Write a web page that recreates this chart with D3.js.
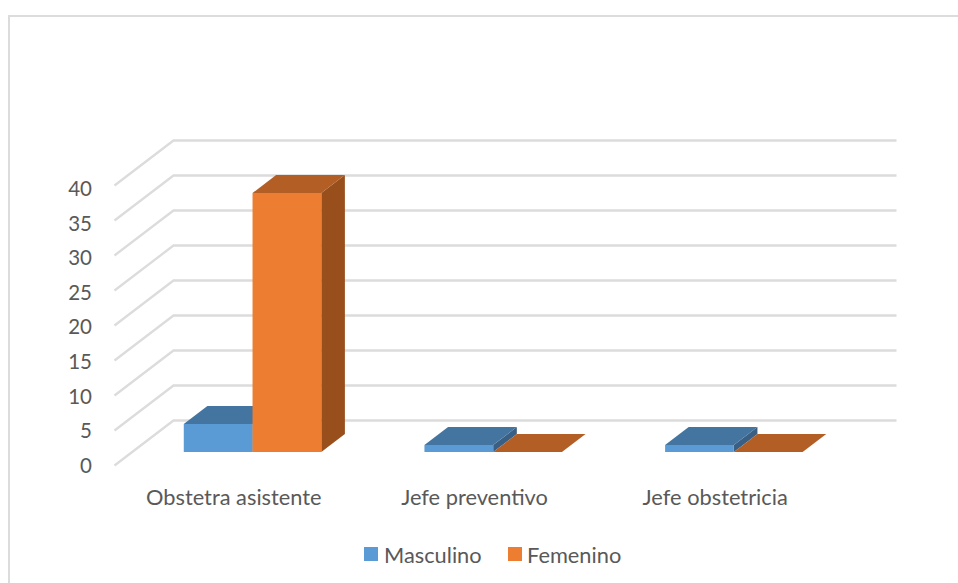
<!DOCTYPE html>
<html lang="es">
<head>
<meta charset="utf-8">
<title>Cargo por sexo</title>
<script src="https://cdn.jsdelivr.net/npm/d3@7/dist/d3.min.js"></script>
<style>
  html, body { margin: 0; padding: 0; background: #fff; overflow: hidden; }
  svg { display: block; }
  text { font-family: Lato, "Open Sans", sans-serif; fill: #595959; }
</style>
</head>
<body>
<svg id="chart" width="958" height="583"></svg>
<script>
// Chart values
const categories = ["Obstetra asistente", "Jefe preventivo", "Jefe obstetricia"];
const seriesNames = ["Masculino", "Femenino"];
const masculino = [4, 1, 1];
const femenino = [37, 0, 0];
const yTicks = [0, 5, 10, 15, 20, 25, 30, 35, 40];

const seriesValues = [masculino, femenino];
const faceColors = [
  { front: "#5b9bd5", top: "#4475a0", side: "#395f84" },
  { front: "#ed7d31", top: "#b25e25", side: "#984f1c" }
];

const svg = d3.select("#chart");

// Front plane of the 3D plot box and the offset to its back wall
const plot = { left: 114.5, right: 837.5, floor: 465.5, ceiling: 185.5 };
const depth = { dx: 59, dy: -45 };
const barDepthStart = 0.3, barDepthEnd = 0.7;

// Categories stop just short of the wall's right end
const x = d3.scaleBand().domain(categories).range([plot.left, plot.right - 1]);
const barWidth = x.bandwidth() / 3.5;
const xSeries = d3.scaleBand().domain(seriesNames)
  .range([x.bandwidth() / 2 - barWidth, x.bandwidth() / 2 + barWidth]);
const y = d3.scaleLinear().domain([0, 40]).range([plot.floor, plot.ceiling]);
// The value labels sit on a slightly tighter spacing than the gridlines
const yLabel = d3.scaleLinear().domain([0, 40]).range([465.5, 189]);

// Outer chart frame, running past the right and bottom edges of the page
svg.append("rect")
  .attr("x", 9).attr("y", 16).attr("width", 1000).attr("height", 700)
  .attr("fill", "#fff").attr("stroke", "#dcdcdc").attr("stroke-width", 2);

// Gridlines: a slanted run along the side wall, then straight across the back wall
const line = d3.line();
svg.append("g").selectAll("path").data(yTicks).join("path")
  .attr("fill", "none").attr("stroke", "#dcdcdc").attr("stroke-width", 2.3)
  .attr("d", t => line([
    [plot.left, y(t)],
    [plot.left + depth.dx, y(t) + depth.dy],
    [plot.right + depth.dx, y(t) + depth.dy]
  ]));

// Value axis labels
svg.append("g").selectAll("text").data(yTicks).join("text")
  .attr("x", 92).attr("y", t => yLabel(t)).attr("dy", "0.35em")
  .attr("text-anchor", "end").attr("font-size", 20.5)
  .text(d => d);

// Category labels
svg.append("g").selectAll("text").data(categories).join("text")
  .attr("x", c => x(c) + x.bandwidth() / 2 - 1).attr("y", 504.5)
  .attr("text-anchor", "middle").attr("font-size", 21.8)
  .text(d => d);

// One box for each value, drawn series by series so later ones overlap earlier ones
const pts = a => a.map(p => p.join(",")).join(" ");
const off = f => [depth.dx * f, depth.dy * f];
const [sx, sy] = off(barDepthStart);
const [bx, by] = off(barDepthEnd - barDepthStart);

seriesNames.forEach((name, s) => {
  const g = svg.append("g");
  categories.forEach((cat, i) => {
    const v = seriesValues[s][i];
    const x0 = x(cat) + xSeries(name) + sx;
    const x1 = x0 + xSeries.bandwidth();
    const yBase = y(0) + sy;
    const yTop = y(v) + sy;
    const c = faceColors[s];
    if (v > 0) {
      g.append("polygon").attr("fill", c.side)
        .attr("points", pts([[x1, yBase], [x1 + bx, yBase + by], [x1 + bx, yTop + by], [x1, yTop]]));
    }
    g.append("polygon").attr("fill", c.top)
      .attr("points", pts([[x0, yTop], [x1, yTop], [x1 + bx, yTop + by], [x0 + bx, yTop + by]]));
    if (v > 0) {
      g.append("rect").attr("fill", c.front)
        .attr("x", x0).attr("y", yTop).attr("width", x1 - x0).attr("height", yBase - yTop);
    }
  });
});

// Legend
const legendX = [364, 508];
const legend = svg.append("g").selectAll("g").data(seriesNames).join("g")
  .attr("transform", (d, i) => `translate(${legendX[i]},547)`);
legend.append("rect").attr("width", 14).attr("height", 14)
  .attr("fill", (d, i) => faceColors[i].front);
legend.append("text").attr("x", (d, i) => i === 0 ? 20 : 19).attr("y", 15.5)
  .attr("font-size", 21.8).text(d => d);
</script>
</body>
</html>
